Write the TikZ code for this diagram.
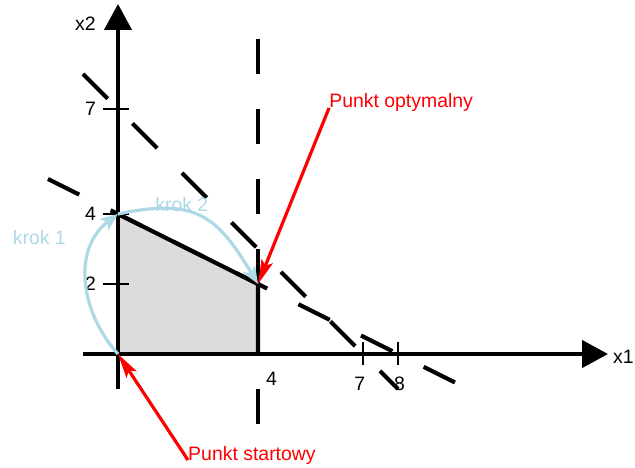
\documentclass[tikz,border=0pt]{standalone}
\usepackage{fontspec}
\setmainfont{Liberation Sans}
\usetikzlibrary{arrows.meta,positioning}
\definecolor{krokblue}{RGB}{173,216,230}
\definecolor{regiongray}{RGB}{220,220,220}
\tikzset{
  axisline/.style={line width=3.3pt,-{Triangle[length=7.4mm,width=7.7mm]}},
  tickmark/.style={line width=1.6pt},
  limit/.style={line width=3.3pt,dash pattern=on 1cm off 1cm},
  bound/.style={line width=3.3pt},
  region/.style={fill=regiongray},
  krok/.style={line width=2.6pt,draw=krokblue,-{Stealth[length=5mm,width=4mm,inset=1.2mm]}},
  pointer/.style={line width=2.6pt,draw=red,-{Stealth[length=7mm,width=3.4mm,inset=1.4mm]}},
  lbl/.style={inner sep=0pt,font=\fontsize{15.8}{19}\selectfont},
  ylbl/.style={lbl,anchor=base east},
  xlbl/.style={lbl,anchor=base}
}

\begin{document}
\begin{tikzpicture}[x=1cm,y=1cm]
\useasboundingbox (-3.371,-3.229) rectangle (14.771,10.114);
\coordinate (O) at (0,0);
\coordinate (A) at (0,4);
\coordinate (B) at (4,2);
\coordinate (C) at (4,0);
\coordinate (l1s) at (-1,8);  \coordinate (l1e) at (8,-1);
\coordinate (l2s) at (-2,5);  \coordinate (l2e) at (10,-1);
\coordinate (l3s) at (4,9);   \coordinate (l3e) at (4,-2);
\coordinate (xs) at (-1,0);   \coordinate (xe) at (14,0);
\coordinate (ys) at (0,-1);   \coordinate (ye) at (0,10);
\fill[region] (O) -- (A) -- (B) -- (C) -- cycle;
\draw[limit] (l1s) -- (l1e);
\draw[limit] (l2s) -- (l2e);
\draw[limit] (l3s) -- (l3e);
\draw[bound] (A) -- (B) -- (C);
\foreach \k in {2,4,7} {
  \draw[tickmark] (-0.43,\k) -- (0.31,\k);
  \node[ylbl] at (-0.62,\k-0.18) {\k};
}
\foreach \k in {7,8} {
  \draw[tickmark] (\k,-0.31) -- (\k,0.33);
}
\node[xlbl] (t7) at (6.91,-1.03) {7};
\node[xlbl] (t8) at (8.04,-1.03) {8};
\node[xlbl] (t4) at (4.39,-0.89) {4};
\draw[axisline] (xs) -- (xe);
\draw[axisline] (ys) -- (ye);
\node[lbl,anchor=base west] (x1) at (14.14,-0.27) {x1};
\node[lbl,anchor=base west] (x2) at (-1.23,9.24) {x2};
\node[lbl,anchor=base west,text=krokblue] (k1) at (-3.01,3.14) {krok 1};
\node[lbl,anchor=base west,text=krokblue] (k2) at (1.06,4.07) {krok 2};
\draw[krok] (O) to[out=132,in=217,looseness=1.05] (A);
\draw[krok] (A) to[out=12,in=121,looseness=1.3] (B);
\node[lbl,anchor=base west,text=red] (opt) at (6.03,7.03) {Punkt optymalny};
\node[lbl,anchor=base west,text=red] (start) at (2,-3.03) {Punkt startowy};
\draw[pointer] (opt.base west) -- (B);
\draw[pointer] (start.base west) -- (O);
\end{tikzpicture}
\end{document}
